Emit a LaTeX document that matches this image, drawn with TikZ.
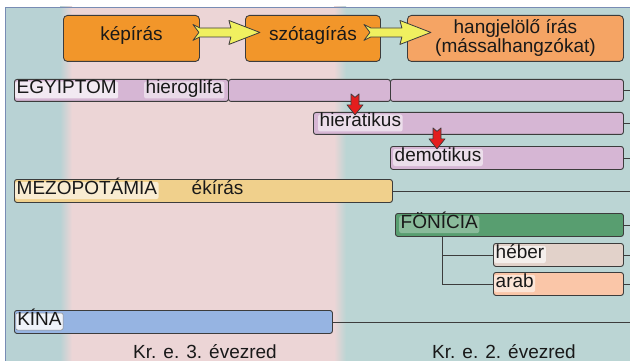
\documentclass[tikz,border=0pt]{standalone}
\usepackage{fontspec}
\setmainfont{Liberation Sans}
\definecolor{tealL}{RGB}{184,210,212}
\definecolor{pinkB}{RGB}{236,213,214}
\definecolor{tealR}{RGB}{187,213,212}
\definecolor{orng}{RGB}{242,150,42}
\definecolor{salm}{RGB}{245,164,100}
\definecolor{yel}{RGB}{240,240,96}
\definecolor{redc}{RGB}{228,30,30}
\definecolor{egyc}{RGB}{214,182,212}
\definecolor{mezc}{RGB}{240,208,140}
\definecolor{fonc}{RGB}{88,158,112}
\definecolor{hebc}{RGB}{226,210,202}
\definecolor{arabc}{RGB}{250,198,168}
\definecolor{kinac}{RGB}{150,180,226}
\definecolor{lc}{RGB}{60,60,60}
\definecolor{framec}{RGB}{120,140,180}
\begin{document}
\begin{tikzpicture}[x=1pt,y=-1pt,
  every node/.style={font=\fontsize{19}{20}\selectfont, text=black!90},
  bar/.style={draw=lc, line width=0.9pt, rounded corners=2.5pt, inner sep=0pt, anchor=north west},
  topbox/.style={draw=lc, line width=0.9pt, rounded corners=4pt, inner sep=0pt, anchor=north west, align=center, minimum height=46pt},
  lbl/.style={anchor=west, fill=white, fill opacity=#1, text opacity=1, inner xsep=1.5pt, inner ysep=0pt, minimum height=17pt, text height=0.72em, text depth=0pt, rounded corners=2pt},
  lbl/.default=0.6,
  conn/.style={draw=lc, line width=0.9pt},
  yarrow/.style={fill=yel, draw=lc, line width=0.8pt, line join=round},
  rarrow/.style={fill=redc, draw=lc, line width=0.7pt, line join=round},
  yarr/.pic={\draw[yarrow] (0,-8) -- (7,-4.5) -- (38,-4.5) -- (36,-12) -- (67,0) -- (36,12) -- (38,4.5) -- (7,4.5) -- (0,8) -- (6,0) -- cycle;},
  rarr/.pic={\draw[rarrow] (-4,0) -- (0,3.5) -- (4,0) -- (4,11) -- (8,11) -- (0,21) -- (-8,11) -- (-4,11) -- cycle;}]
\useasboundingbox (0,0) rectangle (630,361);
% background
\fill[white] (0,0) rectangle (630,361);
\fill[tealL] (5,7) rectangle (60,361);
\shade[left color=tealL, right color=pinkB] (60,7) rectangle (72,361);
\fill[pinkB] (72,7) rectangle (334,361);
\shade[left color=pinkB, right color=tealR] (334,7) rectangle (346,361);
\fill[tealR] (346,7) rectangle (630,361);
\draw[framec, line width=0.8pt] (5,361) -- (5,7) -- (630,7);
\coordinate (redge) at (630,0);
% top boxes
\node[topbox, fill=orng, minimum width=136pt, text height=0.72em, text depth=0.21em] (kep) at (63,15) {képírás};
\node[topbox, fill=orng, minimum width=135pt, text height=0.72em, text depth=0.21em] (szo) at (245,15) {szótagírás};
\node[topbox, fill=salm, minimum width=216pt, font=\fontsize{19}{19}\selectfont] (hang) at (407,15) {hangjelölő írás\\(mássalhangzókat)};
\path (kep.east) ++(-7,-6) pic {yarr};
\path (szo.east) ++(-17,-6) pic {yarr};
% Egypt
\node[bar, fill=egyc, minimum width=214pt, minimum height=22pt] (egy1) at (14,79) {};
\node[bar, fill=egyc, minimum width=162pt, minimum height=22pt] (egy2) at (228,79) {};
\node[bar, fill=egyc, minimum width=233pt, minimum height=22pt] (egy3) at (390,79) {};
\node[lbl=0.7] (tegy) at (15,90) {EGYIPTOM};
\node[lbl=0.5] (thiero) at (144,90) {hieroglifa};
\node[bar, fill=egyc, minimum width=310pt, minimum height=22pt] (hier) at (313,112) {};
\node[lbl=0.55] (thier) at (318,123) {hieratikus};
\node[bar, fill=egyc, minimum width=233pt, minimum height=23pt] (demo) at (390,146) {};
\node[lbl=0.55] (tdemo) at (393,157.5) {demotikus};
\path (egy2.south west) ++(127,-8) pic {rarr};
\path (hier.south west) ++(124,-7) pic {rarr};
\draw[conn] (egy3.east) -- (egy3.east -| redge);
\draw[conn] (hier.east) -- (hier.east -| redge);
\draw[conn] (demo.east) -- (demo.east -| redge);
% Mesopotamia
\node[bar, fill=mezc, minimum width=378pt, minimum height=23pt] (mezo) at (14,179) {};
\node[lbl=0.6] (tmezo) at (15,190.5) {MEZOPOTÁMIA};
\node[anchor=west, inner xsep=1.5pt, inner ysep=0pt, text height=0.72em, text depth=0pt] (tek) at (190,190.5) {ékírás};
\draw[conn] (mezo.east) -- (mezo.east -| redge);
% Phoenicia
\node[bar, fill=fonc, minimum width=228pt, minimum height=23pt] (fon) at (395,213) {};
\node[lbl=0.3] (tfon) at (399,224.5) {FÖNÍCIA};
\node[bar, fill=hebc, minimum width=130pt, minimum height=23pt] (heb) at (493,243) {};
\node[lbl=0.65] (theb) at (494,254.5) {héber};
\node[bar, fill=arabc, minimum width=130pt, minimum height=23pt] (arab) at (493,272) {};
\node[lbl=0.55] (tarab) at (494,283.5) {arab};
\path (fon.south west) ++(47,0) coordinate (fb);
\draw[conn] (fb) |- (arab.west);
\draw[conn] (fb |- heb.west) -- (heb.west);
\draw[conn] (fon.east) -- (fon.east -| redge);
\draw[conn] (heb.east) -- (heb.east -| redge);
\draw[conn] (arab.east) -- (arab.east -| redge);
% China
\node[bar, fill=kinac, minimum width=318pt, minimum height=23pt] (kina) at (14,310) {};
\node[lbl=0.85, draw=lc!60, line width=0.5pt] (tkina) at (15.5,321.5) {KÍNA};
\draw[conn] (kina.east) -- (kina.east -| redge);
% bottom labels
\node[anchor=base] (t3) at (205,358) {Kr. e. 3. évezred};
\node[anchor=base] (t2) at (504,358) {Kr. e. 2. évezred};
\end{tikzpicture}
\end{document}
